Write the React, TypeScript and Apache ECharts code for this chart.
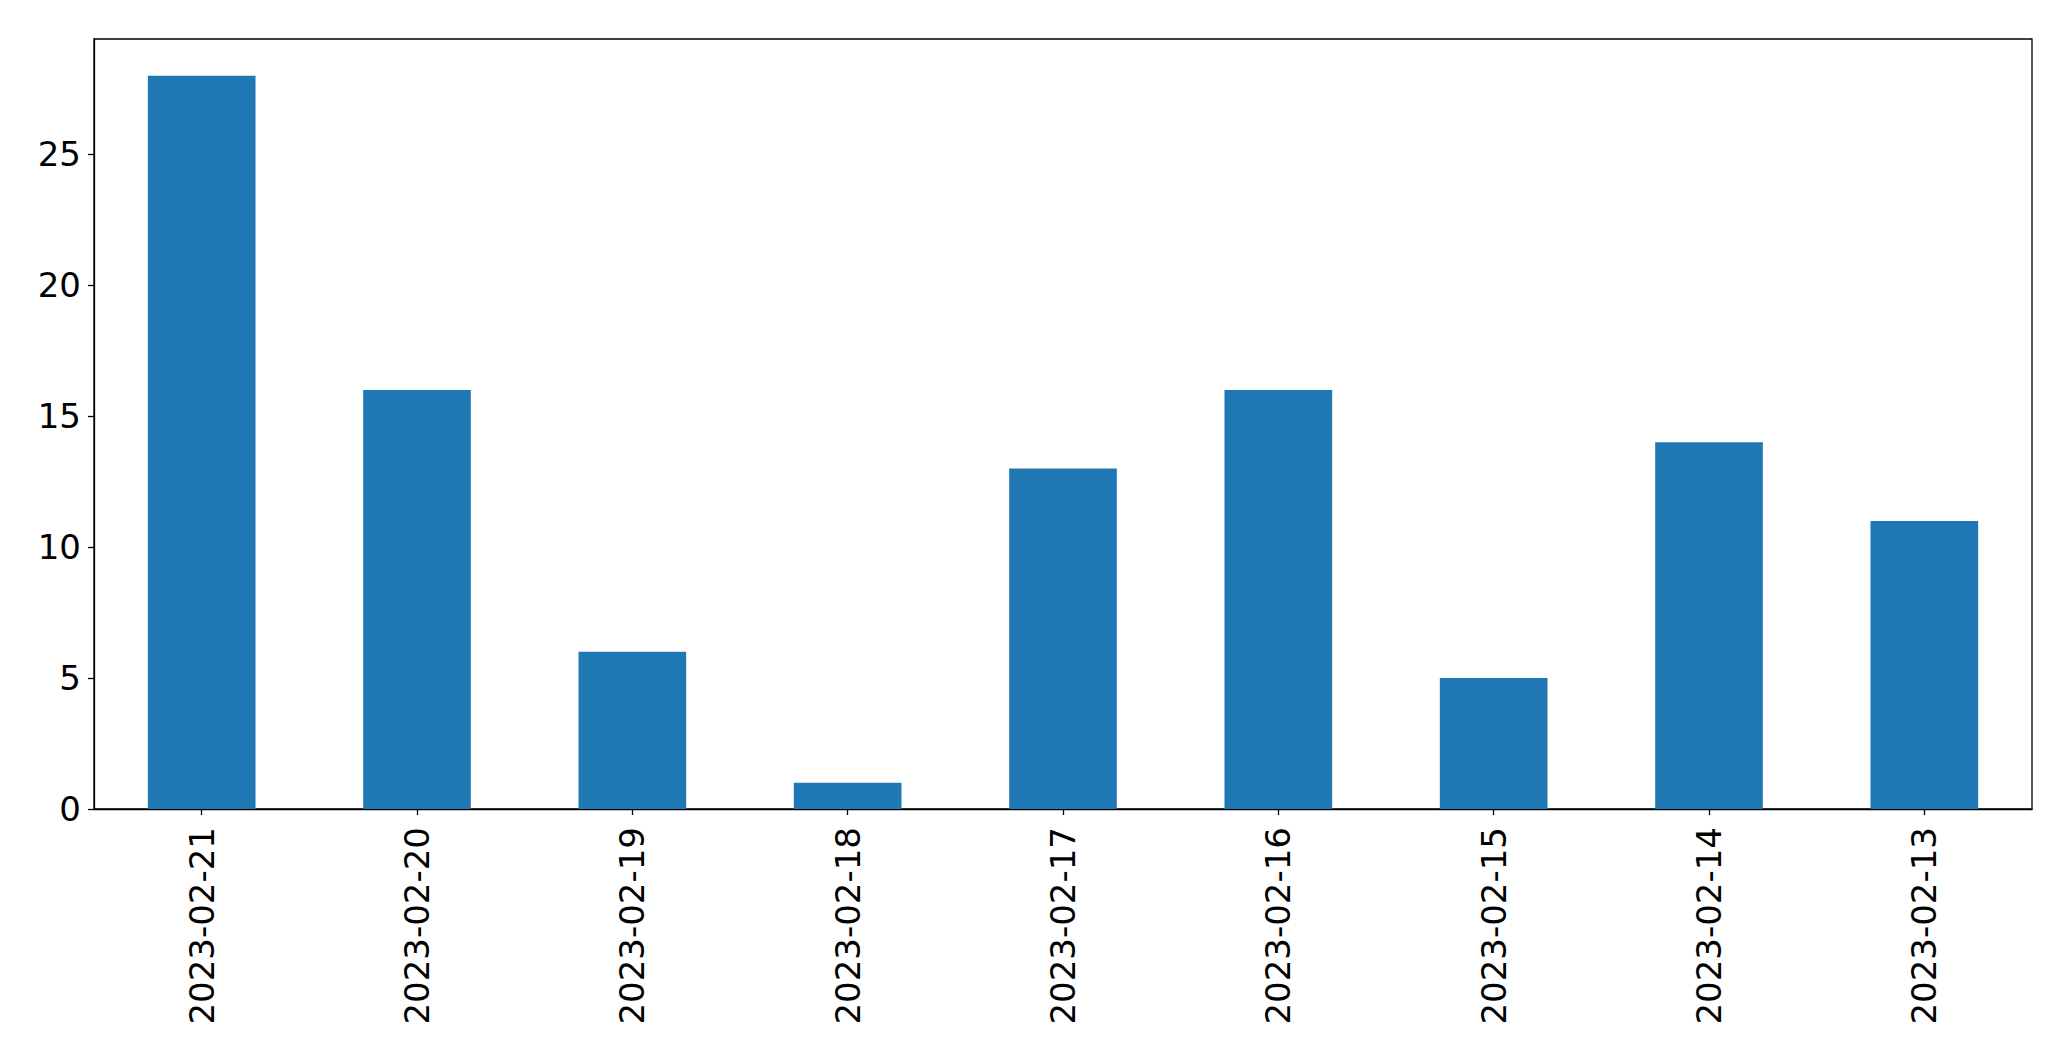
import React, { useEffect, useRef } from "react";
import * as echarts from "echarts";

const categories = [
  "2023-02-21",
  "2023-02-20",
  "2023-02-19",
  "2023-02-18",
  "2023-02-17",
  "2023-02-16",
  "2023-02-15",
  "2023-02-14",
  "2023-02-13",
];
const values = [28, 16, 6, 1, 13, 16, 5, 14, 11];
const yTicks = [0, 5, 10, 15, 20, 25];

export default function App() {
  const ref = useRef<HTMLDivElement>(null);
  useEffect(() => {
    if (!ref.current) return;
    const chart = echarts.init(ref.current, null, { renderer: "svg" });
    const font = { fontFamily: "DejaVu Sans", fontSize: 34, color: "#000" };
    chart.setOption({
      animation: false,
      backgroundColor: "#fff",
      grid: {
        left: 94,
        right: 39,
        top: 39,
        bottom: 252,
        show: true,
        borderColor: "#000",
        borderWidth: 1.3,
        backgroundColor: "transparent",
      },
      xAxis: {
        type: "category",
        data: categories,
        boundaryGap: true,
        axisLine: { show: true, lineStyle: { color: "#000", width: 1.3 } },
        axisTick: {
          show: true,
          alignWithLabel: true,
          length: 6,
          lineStyle: { color: "#000", width: 1.3 },
        },
        axisLabel: { ...font, rotate: 90, margin: 18, interval: 0 },
        splitLine: { show: false },
      },
      yAxis: {
        type: "value",
        min: 0,
        max: 29.4,
        axisLine: { show: true, lineStyle: { color: "#000", width: 1.3 } },
        axisTick: {
          show: true,
          length: 6,
          customValues: yTicks,
          lineStyle: { color: "#000", width: 1.3 },
        },
        axisLabel: { ...font, margin: 13, customValues: yTicks },
        splitLine: { show: false },
      },
      series: [
        {
          type: "bar",
          data: values,
          barWidth: "50%",
          itemStyle: { color: "#1f77b4" },
        },
      ],
    });
    return () => chart.dispose();
  }, []);
  return (
    <div
      ref={ref}
      style={{ position: "fixed", left: 0, top: 0, width: 2071, height: 1061 }}
    />
  );
}
